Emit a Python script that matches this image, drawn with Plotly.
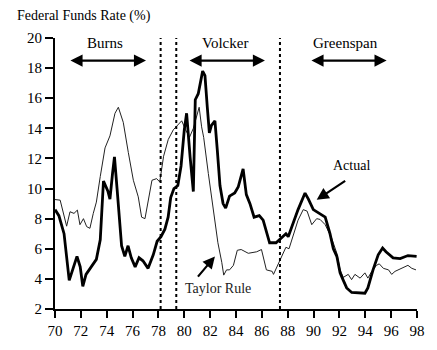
import plotly.graph_objects as go

# ---- data ----
actual_x = [70.0,70.3,70.7,71.1,71.4,71.7,71.95,72.15,72.4,72.8,73.2,73.5,73.75,74.1,74.25,74.45,74.6,74.8,75.0,75.15,
            75.4,75.65,75.9,76.2,76.5,76.8,77.2,77.6,77.9,78.2,78.5,78.75,78.95,79.2,79.5,79.75,80.0,80.18,80.45,80.7,
            80.85,81.08,81.42,81.6,81.78,81.94,82.1,82.37,82.55,82.76,83.0,83.2,83.5,83.9,84.17,84.55,84.8,85.08,85.4,85.8,
            86.1,86.6,87.1,87.5,87.86,88.04,88.3,88.8,89.34,89.6,89.98,90.37,90.9,91.27,91.53,91.8,92.05,92.3,92.56,92.95,
            93.6,93.97,94.2,94.6,95.0,95.34,95.6,96.15,96.7,97.07,97.3,97.97]
actual_y = [8.6,8.2,7.0,3.9,4.7,5.5,4.8,3.5,4.3,4.8,5.3,6.6,10.5,9.8,9.3,11.0,12.1,10.0,7.6,6.2,
            5.5,6.2,5.4,4.8,5.4,5.2,4.7,5.6,6.5,6.8,7.3,8.1,9.4,10.0,10.2,11.5,13.9,15.0,12.1,9.8,
            15.9,16.3,17.8,17.5,15.4,13.7,14.2,14.5,12.6,10.2,9.0,8.7,9.5,9.7,10.1,11.3,9.6,9.0,8.1,8.2,
            7.9,6.4,6.4,6.7,7.0,6.8,7.4,8.6,9.7,9.3,8.6,8.4,8.1,7.0,6.0,5.5,4.4,3.9,3.4,3.1,
            3.05,3.05,3.4,4.6,5.6,6.05,5.8,5.4,5.35,5.45,5.55,5.5]

taylor_x = [70.0,70.4,70.9,71.16,71.47,71.73,71.93,72.2,72.45,72.7,72.96,73.2,73.5,73.87,74.25,74.64,74.9,75.28,75.67,76.06,
            76.44,76.7,76.96,77.2,77.5,77.86,78.1,78.4,78.76,79.15,79.54,79.8,80.1,80.4,80.7,81.0,81.15,81.34,81.5,81.86,
            82.24,82.6,82.9,83.05,83.27,83.5,83.8,84.1,84.4,84.95,85.6,85.97,86.35,86.8,86.9,87.2,87.5,87.86,88.1,88.4,
            88.8,89.2,89.5,89.86,90.24,90.5,90.9,91.4,91.8,92.05,92.3,92.68,92.94,93.2,93.6,93.97,94.2,94.5,94.87,95.08,
            95.4,95.8,96.04,96.3,96.8,97.3,97.6,97.92]
taylor_y = [9.27,9.23,7.5,8.46,8.35,8.57,7.6,8.0,7.47,7.36,8.35,9.1,10.8,12.7,13.5,15.0,15.4,14.4,12.4,10.55,
            9.45,8.1,8.0,9.2,10.55,10.66,10.44,12.15,13.26,13.9,14.25,14.5,13.9,13.4,14.0,15.0,15.4,14.1,13.4,11.0,
            8.6,6.4,5.1,4.25,4.6,4.6,4.9,5.9,5.95,5.7,5.8,5.95,4.6,4.5,4.3,4.85,5.4,6.1,6.0,6.8,
            7.9,8.6,8.5,7.6,8.0,7.95,7.6,6.7,5.7,4.6,4.1,4.3,3.95,4.3,4.05,4.4,4.05,4.5,4.9,5.0,
            4.7,4.6,4.3,4.5,4.7,4.9,4.7,4.6]

regime_breaks = [78.17, 79.38, 87.4]
chairs = ["Burns", "Volcker", "Greenspan"]
chair_spans = [(71.08, 77.04), (80.29, 86.24), (89.72, 95.65)]
chair_label_x = [73.9, 83.15, 92.47]

x_ticks = list(range(70, 100, 2))
y_ticks = list(range(2, 22, 2))

FONT = "'Liberation Serif', 'DejaVu Serif', serif"

fig = go.Figure()
fig.add_trace(go.Scatter(x=taylor_x, y=taylor_y, mode="lines",
                         line=dict(color="#222222", width=1), name="Taylor Rule", hoverinfo="skip"))
fig.add_trace(go.Scatter(x=actual_x, y=actual_y, mode="lines",
                         line=dict(color="black", width=2.8), name="Actual", hoverinfo="skip"))

for bx in regime_breaks:
    fig.add_shape(type="line", x0=bx, x1=bx, y0=2, y1=20.1, xref="x", yref="y",
                  line=dict(color="black", width=2, dash="dot"))

anns = []
for name, (a, b), lx in zip(chairs, chair_spans, chair_label_x):
    anns.append(dict(x=lx, y=19.67, xref="x", yref="y", text=name, showarrow=False,
                     font=dict(family=FONT, size=15, color="black")))
    anns.append(dict(x=b, y=18.5, ax=a, ay=18.5, xref="x", yref="y", axref="x", ayref="y",
                     text="", showarrow=True, arrowhead=2, arrowside="end+start",
                     arrowsize=1.1, arrowwidth=2.2, arrowcolor="black"))

anns.append(dict(x=92.95, y=11.5, xref="x", yref="y", text="Actual", showarrow=False,
                 font=dict(family=FONT, size=14, color="black")))
anns.append(dict(x=90.24, y=9.25, ax=92.56, ay=10.58, xref="x", yref="y", axref="x", ayref="y",
                 text="", showarrow=True, arrowhead=2, arrowsize=1.1, arrowwidth=2.2, arrowcolor="black"))
anns.append(dict(x=82.6, y=3.39, xref="x", yref="y", text="Taylor Rule", showarrow=False,
                 font=dict(family=FONT, size=14, color="#222222")))
anns.append(dict(x=82.37, y=5.49, ax=80.96, ay=4.05, xref="x", yref="y", axref="x", ayref="y",
                 text="", showarrow=True, arrowhead=2, arrowsize=1.1, arrowwidth=2.2, arrowcolor="black"))
anns.append(dict(x=-0.11, y=1.081, xref="paper", yref="paper", text="Federal Funds Rate (%)",
                 showarrow=False, xanchor="left", yanchor="middle",
                 font=dict(family=FONT, size=14, color="black")))

fig.update_layout(
    width=437, height=350,
    margin=dict(l=55, r=20, t=38, b=41),
    paper_bgcolor="white", plot_bgcolor="white",
    showlegend=False,
    annotations=anns,
    font=dict(family=FONT, size=14, color="black"),
)
fig.update_xaxes(range=[70, 98], tickvals=x_ticks, ticktext=[str(v) for v in x_ticks],
                 showgrid=False, zeroline=False, showline=True, linecolor="black", linewidth=2,
                 ticks="outside", ticklen=7, tickwidth=2, tickcolor="black",
                 tickfont=dict(family=FONT, size=15, color="black"))
fig.update_yaxes(range=[2, 20], tickvals=y_ticks, ticktext=[str(v) for v in y_ticks],
                 showgrid=False, zeroline=False, showline=True, linecolor="black", linewidth=2,
                 ticks="outside", ticklen=8, tickwidth=2, tickcolor="black",
                 tickfont=dict(family=FONT, size=15, color="black"))

fig.write_html("out.html")
